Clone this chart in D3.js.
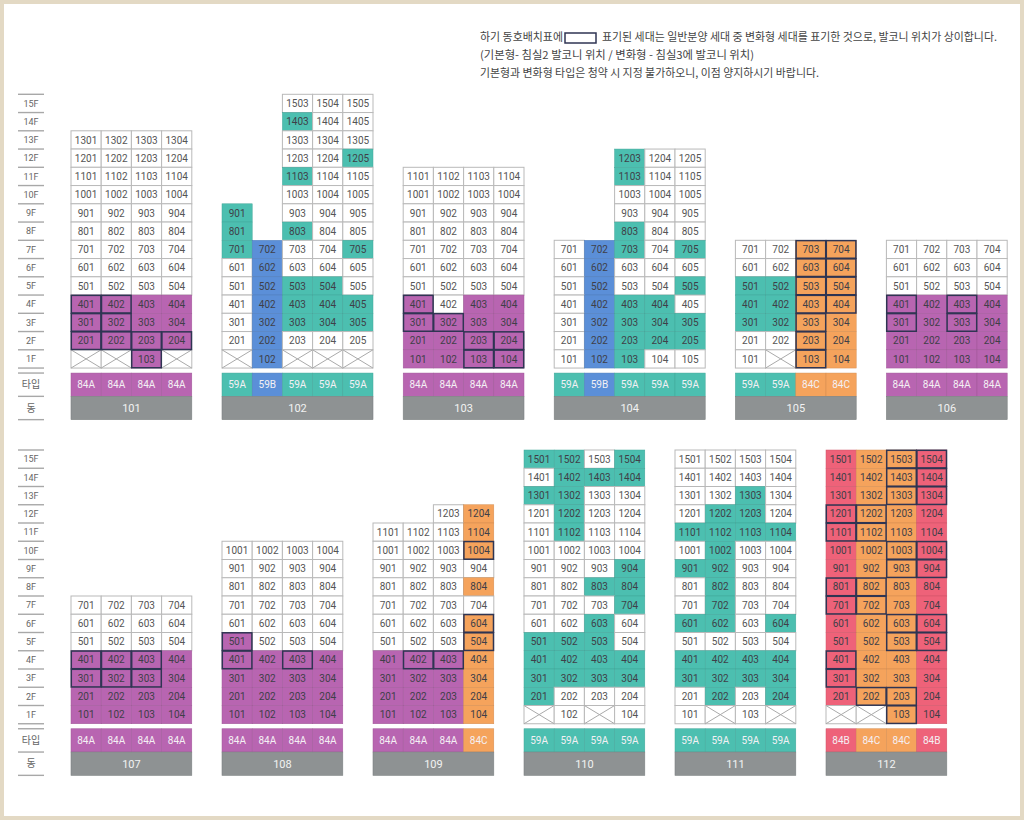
<!DOCTYPE html>
<html>
<head>
<meta charset="utf-8">
<script src="https://cdn.jsdelivr.net/npm/d3@7"></script>
<style>
  body { margin: 0; background: #fff; }
  svg { display: block; }
</style>
</head>
<body>
<div id="plot"></div>
<script>
// Floors, top to bottom
let floorLabels = ['15F','14F','13F','12F','11F','10F','9F','8F','7F','6F','5F','4F','3F','2F','1F']
let dongNames = ['101','102','103','104','105','106','107','108','109','110','111','112']
let dongTypes = [
  ['84A','84A','84A','84A'],
  ['59A','59B','59A','59A','59A'],
  ['84A','84A','84A','84A'],
  ['59A','59B','59A','59A','59A'],
  ['59A','59A','84C','84C'],
  ['84A','84A','84A','84A'],
  ['84A','84A','84A','84A'],
  ['84A','84A','84A','84A'],
  ['84A','84A','84A','84C'],
  ['59A','59A','59A','59A'],
  ['59A','59A','59A','59A'],
  ['84B','84C','84C','84B']
]
// One string per floor (15F..1F), one char per line:
// '.' no unit, 'o' plain, 'f' filled with type colour, 'x' no unit on 1F, upper case = 변화형 (outlined)
let dongGrids = [
  ['....','....','oooo','oooo','oooo','oooo','oooo','oooo','oooo','oooo','oooo','FFff','FFff','FFFF','xxFx'],
  ['..ooo','..foo','..ooo','..oof','..foo','..ooo','f.ooo','f.foo','ffoof','ofooo','offfo','offff','offff','ofooo','xfxxx'],
  ['....','....','....','....','oooo','oooo','oooo','oooo','oooo','oooo','oooo','Foff','FFff','ffFF','ffFF'],
  ['.....','.....','.....','..foo','..foo','..ooo','..ooo','..foo','offof','ofooo','ofoof','offfo','offff','offff','offoo'],
  ['....','....','....','....','....','....','....','....','ooFF','ooFF','ffFF','ffFF','ffFf','ooFf','oxFf'],
  ['....','....','....','....','....','....','....','....','oooo','oooo','oooo','FfFf','FfFf','ffff','ffff'],
  ['....','....','....','....','....','....','....','....','oooo','oooo','oooo','FFFf','FFFf','ffff','ffff'],
  ['....','....','....','....','....','oooo','oooo','oooo','oooo','oooo','Fooo','FfFf','ffff','ffff','ffff'],
  ['....','....','....','..of','ooof','oooF','oooo','ooof','oooo','oooF','oooF','fFFf','ffff','ffff','ffff'],
  ['ffof','offf','ffoo','ofoo','ofoo','oooo','ooof','ooff','ooof','oofo','fffo','ffff','ffff','fooo','xoxo'],
  ['oooo','oooo','oofo','offo','ffff','ofoo','ffoo','ofoo','ofoo','ffof','oooo','ffff','ffff','ofof','oxox'],
  ['ffFF','ffFF','ffFF','FFff','FFff','ffFF','ffFF','FFff','FFff','ffFF','ffFF','Ffff','Ffff','fFFf','xxFf']
]
let typeColors = {'84A': '#b865b1', '59A': '#4cbfb0', '59B': '#5b8fd8', '84C': '#f5a35c', '84B': '#ee6279'}
let noteLines = [
  '(기본형- 침실2 발코니 위치 / 변화형 - 침실3에 발코니 위치)',
  '기본형과 변화형 타입은 청약 시 지정 불가하오니, 이점 양지하시기 바랍니다.'
]

let width = 1024
let height = 820
let cellW = 30.2
let cellH = 18.25
let rowGap = 5
let typeH = 23.3

let svg = d3.select('#plot')
  .append('svg')
  .attr('width', width)
  .attr('height', height)

// Frame
svg.append('rect')
  .attr('x', 2).attr('y', 2)
  .attr('width', width - 4).attr('height', height - 4)
  .attr('fill', '#fff')
  .attr('stroke', '#e3d9c4')
  .attr('stroke-width', 4)

// Note above the chart
let note = svg.append('g')
  .style('font-family', '"Noto Sans CJK KR", "Noto Sans", sans-serif')
  .style('font-size', '11px')
  .attr('fill', '#444')

note.append('text').attr('x', 480).attr('y', 41)
  .attr('textLength', 83).attr('lengthAdjust', 'spacingAndGlyphs')
  .text('하기 동호배치표에')
note.append('rect')
  .attr('x', 565).attr('y', 33).attr('width', 31).attr('height', 10)
  .attr('fill', '#fff').attr('stroke', '#2f3553').attr('stroke-width', 1.5)
note.append('text').attr('x', 602).attr('y', 41)
  .attr('textLength', 395).attr('lengthAdjust', 'spacingAndGlyphs')
  .text('표기된 세대는 일반분양 세대 중 변화형 세대를 표기한 것으로, 발코니 위치가 상이합니다.')
note.selectAll('.line')
  .data(noteLines)
  .enter().append('text')
  .attr('class', 'line')
  .attr('x', 480)
  .attr('y', (d, i) => 59 + i * 17.5)
  .attr('textLength', (d, i) => [274, 339][i])
  .attr('lengthAdjust', 'spacingAndGlyphs')
  .text(d => d)

// Horizontal position of each unit line
let x = d3.scaleLinear()
  .domain([0, 31])
  .range([71, 71 + 31 * cellW])

let sections = [
  {dongs: [0, 1, 2, 3, 4, 5], top: 94.3},
  {dongs: [6, 7, 8, 9, 10, 11], top: 450}
]

sections.forEach(function(sec) {
  let y = d3.scaleBand()
    .domain(floorLabels)
    .range([sec.top, sec.top + floorLabels.length * cellH])
  let floorBottom = y.range()[1]
  let typeTop = floorBottom + rowGap
  let dongTop = typeTop + typeH
  let dongBottom = dongTop + typeH

  let g = svg.append('g')

  // Floor labels on the left
  let axis = g.append('g').attr('class', 'floor-axis')
  let lineYs = floorLabels.map(f => y(f)).concat([floorBottom, typeTop, dongTop, dongBottom])
  axis.selectAll('line')
    .data(lineYs)
    .enter().append('line')
    .attr('x1', 18).attr('x2', 44)
    .attr('y1', d => d).attr('y2', d => d)
    .attr('stroke', '#a8a8a8')
    .attr('stroke-width', 1.4)
  axis.selectAll('text.fl')
    .data(floorLabels)
    .enter().append('text')
    .attr('class', 'fl')
    .attr('x', 31)
    .attr('y', d => y(d) + y.bandwidth() / 2)
    .attr('dy', '0.35em')
    .attr('text-anchor', 'middle')
    .style('font-family', 'Roboto, sans-serif')
    .style('font-size', '9px')
    .attr('fill', '#666')
    .text(d => d)
  axis.selectAll('text.rl')
    .data([['타입', typeTop], ['동', dongTop]])
    .enter().append('text')
    .attr('class', 'rl')
    .attr('x', 31)
    .attr('y', d => d[1] + typeH / 2)
    .attr('dy', '0.35em')
    .attr('text-anchor', 'middle')
    .style('font-family', '"Noto Sans CJK KR", sans-serif')
    .style('font-size', '10px')
    .attr('fill', '#666')
    .text(d => d[0])

  // Column offset of every dong in this row (one empty line between dongs)
  let colStart = 0
  sec.dongs.forEach(function(di) {
    let types = dongTypes[di]
    let grid = dongGrids[di]
    let start = colStart
    colStart += types.length + 1

    let cells = []
    grid.forEach(function(row, r) {
      row.split('').forEach(function(ch, c) {
        if (ch === '.') return
        let floor = floorLabels.length - r
        cells.push({
          floor: floorLabels[r],
          col: start + c,
          kind: ch.toLowerCase(),
          marked: ch !== ch.toLowerCase(),
          type: types[c],
          unit: String(floor * 100 + c + 1)
        })
      })
    })

    let dg = g.append('g').attr('class', 'dong')

    let cell = dg.selectAll('g.cell')
      .data(cells)
      .enter().append('g')
      .attr('class', 'cell')
      .attr('transform', d => `translate(${x(d.col)},${y(d.floor)})`)

    cell.append('rect')
      .attr('width', cellW)
      .attr('height', y.bandwidth())
      .attr('fill', d => d.kind === 'f' ? typeColors[d.type] : '#fff')
      .attr('stroke', d => d.kind === 'f' ? d3.color(typeColors[d.type]).darker(0.4) : '#b9b9b9')
      .attr('stroke-width', d => d.kind === 'f' ? 0.5 : 1)

    cell.filter(d => d.kind === 'x')
      .selectAll('line')
      .data([[0, 0, cellW, cellH], [0, cellH, cellW, 0]])
      .enter().append('line')
      .attr('x1', d => d[0]).attr('y1', d => d[1])
      .attr('x2', d => d[2]).attr('y2', d => d[3])
      .attr('stroke', '#aaa')
      .attr('stroke-width', 1)

    cell.filter(d => d.kind !== 'x')
      .append('text')
      .attr('x', cellW / 2)
      .attr('y', cellH / 2)
      .attr('dy', '0.36em')
      .attr('text-anchor', 'middle')
      .style('font-family', 'Roboto, sans-serif')
      .style('font-size', '10px')
      .attr('fill', d => d.kind === 'f' ? '#3f3f48' : '#555')
      .text(d => d.unit)

    // 변화형 outlines on top, drawn on the cell edges
    dg.selectAll('rect.mark')
      .data(cells.filter(d => d.marked))
      .enter().append('rect')
      .attr('class', 'mark')
      .attr('x', d => x(d.col) + 0.3)
      .attr('y', d => y(d.floor) + 0.3)
      .attr('width', cellW - 0.6)
      .attr('height', y.bandwidth() - 0.6)
      .attr('fill', 'none')
      .attr('stroke', '#2f3553')
      .attr('stroke-width', 1.5)

    // Type row
    let typeCell = dg.selectAll('g.type')
      .data(types)
      .enter().append('g')
      .attr('class', 'type')
      .attr('transform', (d, i) => `translate(${x(start + i)},${typeTop})`)
    typeCell.append('rect')
      .attr('width', cellW)
      .attr('height', typeH)
      .attr('fill', d => typeColors[d])
      .attr('stroke', d => d3.color(typeColors[d]).darker(0.4))
      .attr('stroke-width', 0.5)
    typeCell.append('text')
      .attr('x', cellW / 2)
      .attr('y', typeH / 2)
      .attr('dy', '0.36em')
      .attr('text-anchor', 'middle')
      .style('font-family', 'Roboto, sans-serif')
      .style('font-size', '10px')
      .attr('fill', '#f4f0f4')
      .text(d => d)

    // Dong row
    dg.append('rect')
      .attr('x', x(start))
      .attr('y', dongTop)
      .attr('width', x(start + types.length) - x(start))
      .attr('height', typeH)
      .attr('fill', '#8e9293')
      .attr('stroke', '#7d8182')
      .attr('stroke-width', 0.6)
    dg.append('text')
      .attr('x', (x(start) + x(start + types.length)) / 2)
      .attr('y', dongTop + typeH / 2)
      .attr('dy', '0.36em')
      .attr('text-anchor', 'middle')
      .style('font-family', 'Roboto, sans-serif')
      .style('font-size', '11px')
      .attr('fill', '#f2f2f2')
      .text(dongNames[di])
  })
})
</script>
</body>
</html>
